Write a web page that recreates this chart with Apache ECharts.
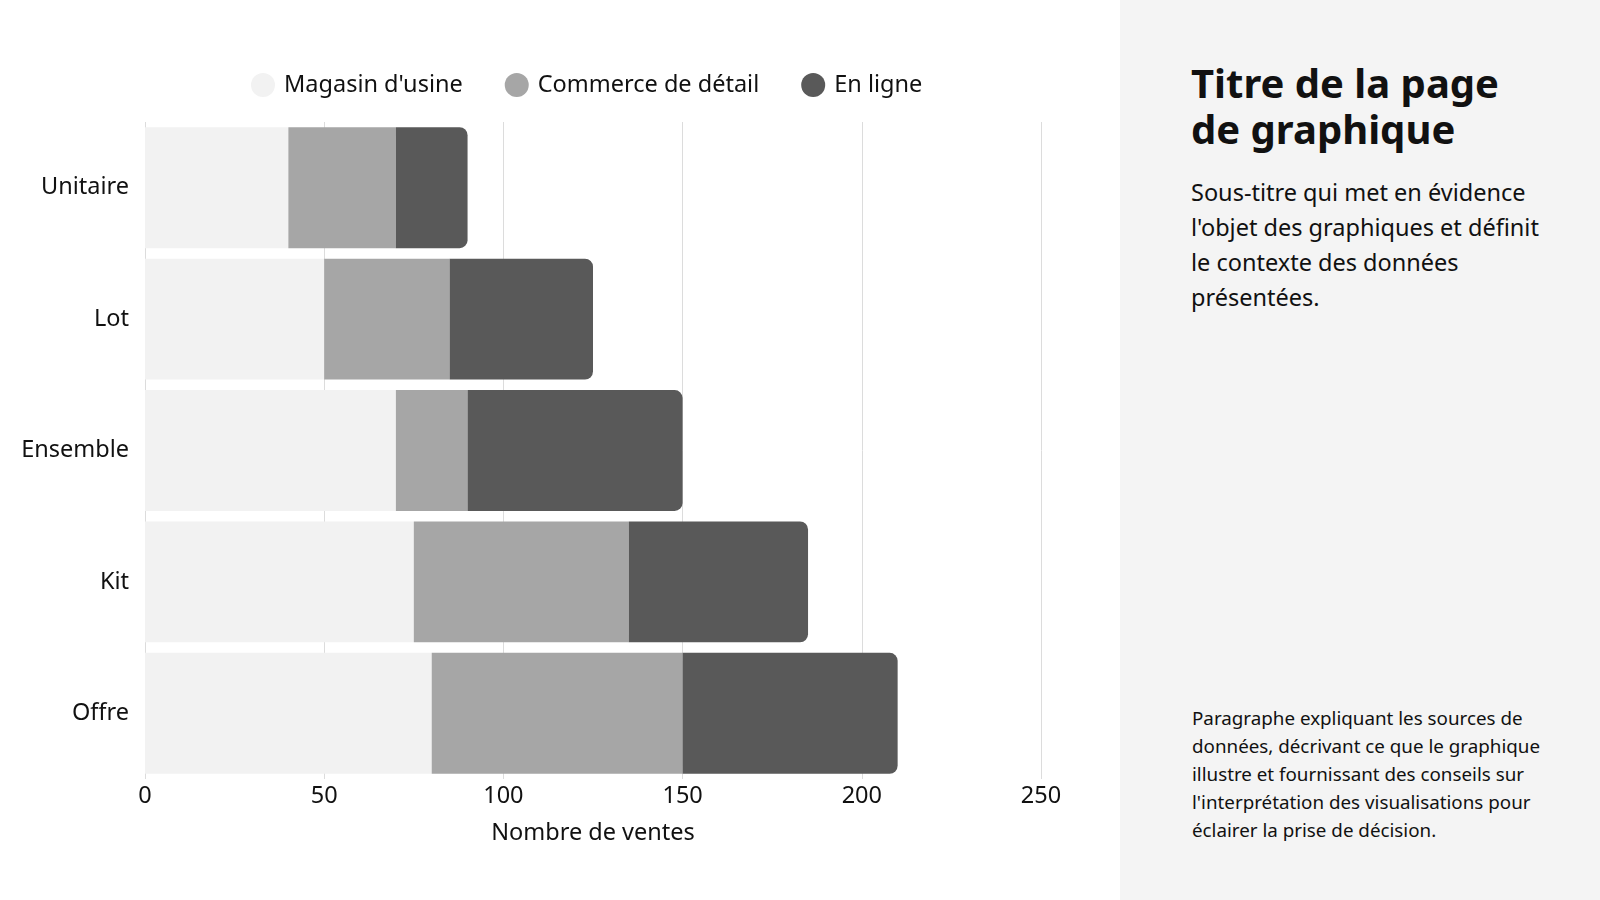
<!DOCTYPE html>
<html>
<head>
<meta charset="utf-8">
<script src="https://cdn.jsdelivr.net/npm/echarts@6/dist/echarts.min.js"></script>
<style>
    html, body { margin: 0; padding: 0; background: #fff; }
    body { width: 1600px; height: 900px; position: relative; overflow: hidden; font-family: "Noto Sans", sans-serif; color: #111; }
    #chart { position: absolute; left: 0; top: 0; width: 1120px; height: 900px; }
    #panel { position: absolute; left: 1120px; top: 0; width: 480px; height: 900px; background: #f4f4f4; }
    #panel h1 { position: absolute; left: 71px; top: 60px; width: 400px; margin: 0; font-size: 40px; line-height: 46px; font-weight: 700; }
    #panel .sub { position: absolute; left: 71px; top: 175px; width: 400px; margin: 0; font-size: 23.5px; line-height: 35px; }
    #panel .para { position: absolute; left: 72px; top: 704px; width: 400px; margin: 0; font-size: 18.8px; line-height: 28px; }
</style>
</head>
<body>
<div id="chart"></div>
<div id="panel">
    <h1>Titre de la page<br>de graphique</h1>
    <p class="sub">Sous-titre qui met en évidence<br>l'objet des graphiques et définit<br>le contexte des données<br>présentées.</p>
    <p class="para">Paragraphe expliquant les sources de<br>données, décrivant ce que le graphique<br>illustre et fournissant des conseils sur<br>l'interprétation des visualisations pour<br>éclairer la prise de décision.</p>
</div>
<script>
var categories = ['Unitaire', 'Lot', 'Ensemble', 'Kit', 'Offre'];
var seriesNames = ['Magasin d\'usine', 'Commerce de détail', 'En ligne'];
var usine = [40, 50, 70, 75, 80];
var detail = [30, 35, 20, 60, 70];
var enLigne = [20, 40, 60, 50, 60];
var xTicks = [0, 50, 100, 150, 200, 250];
var colors = ['#f2f2f2', '#a6a6a6', '#595959'];

var font = '"Noto Sans", sans-serif';

function makeSeries(name, data, color, last) {
    return {
        name: name,
        type: 'bar',
        stack: 'total',
        data: data,
        barCategoryGap: '8%',
        itemStyle: {
            color: color,
            borderRadius: last ? [0, 8, 8, 0] : 0
        },
        emphasis: { disabled: true }
    };
}

var option = {
    animation: false,
    textStyle: { fontFamily: font },
    legend: {
        left: 246,
        top: 68,
        icon: 'circle',
        itemWidth: 24,
        itemHeight: 24,
        itemGap: 42,
        textStyle: { fontSize: 23.5, color: '#111', fontFamily: font, padding: [0, 0, 0, 4] },
        data: seriesNames
    },
    grid: { left: 145, right: 79, top: 122, bottom: 121 },
    xAxis: {
        type: 'value',
        min: xTicks[0],
        max: xTicks[xTicks.length - 1],
        interval: 50,
        name: 'Nombre de ventes',
        nameLocation: 'middle',
        nameGap: 42,
        nameTextStyle: { fontSize: 23.5, color: '#111', fontFamily: font },
        axisLine: { show: false },
        axisTick: { show: false },
        axisLabel: { fontSize: 23.5, color: '#111', margin: 5, fontFamily: font },
        splitLine: { show: true, lineStyle: { color: '#dcdcdc', width: 1 } }
    },
    yAxis: {
        type: 'category',
        inverse: true,
        data: categories,
        axisLine: { show: false },
        axisTick: { show: false },
        axisLabel: { fontSize: 23.5, color: '#111', margin: 16, fontFamily: font, padding: [10, 0, 0, 0] }
    },
    series: [
        makeSeries(seriesNames[0], usine, colors[0], false),
        makeSeries(seriesNames[1], detail, colors[1], false),
        makeSeries(seriesNames[2], enLigne, colors[2], true)
    ]
};

var echart = echarts.init(document.getElementById('chart'));
echart.setOption(option, true);
</script>
</body>
</html>
